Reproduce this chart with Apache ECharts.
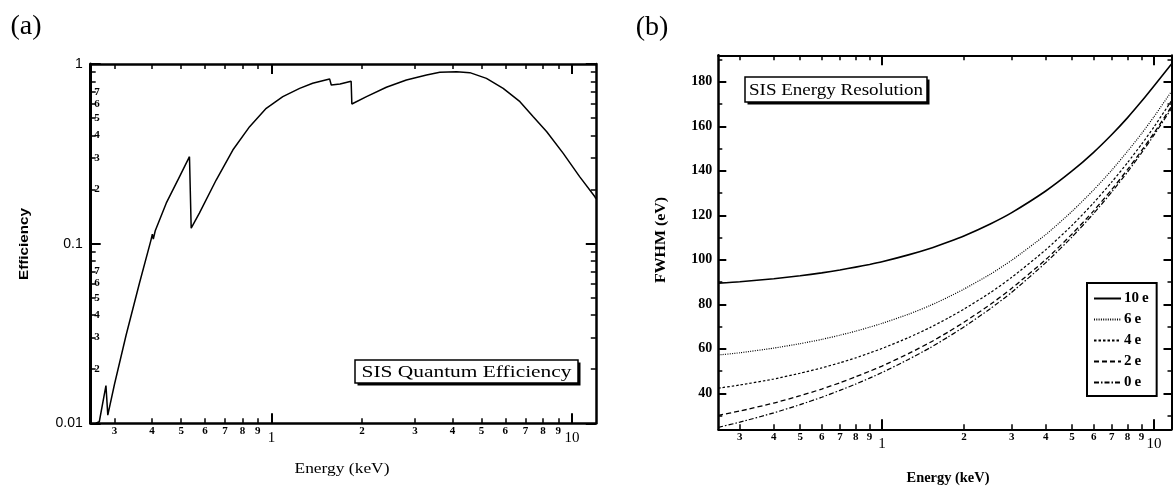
<!DOCTYPE html>
<html>
<head>
<meta charset="utf-8">
<script src="https://cdn.jsdelivr.net/npm/echarts@6/dist/echarts.min.js"></script>
<style>
  html, body { margin: 0; padding: 0; background: #fff; }
  #chart { width: 1173px; height: 486px; }
</style>
</head>
<body>
<div id="chart"></div>
<script>
// (a) SIS quantum efficiency vs photon energy (keV)
const qeEnergy = [0.26, 0.267, 0.281, 0.285, 0.300, 0.328, 0.363, 0.397, 0.401, 0.404, 0.41,
  0.446, 0.494, 0.533, 0.540, 0.575, 0.654, 0.743, 0.845, 0.960, 1.09, 1.24, 1.37, 1.56,
  1.58, 1.69, 1.84, 1.85, 2.07, 2.41, 2.81, 3.28, 3.63, 4.13, 4.57, 5.19, 5.90, 6.71,
  7.43, 8.24, 9.35, 10.6, 11.9, 12];
const qeValue = [0.0100, 0.0102, 0.0162, 0.0111, 0.0165, 0.031, 0.060, 0.105, 0.113, 0.106, 0.118,
  0.168, 0.236, 0.305, 0.122, 0.148, 0.226, 0.332, 0.448, 0.567, 0.658, 0.732, 0.781, 0.826,
  0.764, 0.774, 0.801, 0.599, 0.658, 0.742, 0.815, 0.869, 0.899, 0.906, 0.895, 0.832, 0.732, 0.617,
  0.509, 0.420, 0.318, 0.236, 0.183, 0.178];

// (b) SIS energy resolution (FWHM, eV) for several read-noise levels
const resEnergy = [0.25, 0.3, 0.4, 0.5, 0.6, 0.7, 0.8, 0.9, 1, 1.25, 1.5, 1.75, 2, 2.5, 3, 4, 5, 6, 7, 8, 9, 10, 11.6];
const res10e = [89.5, 90.1, 91.5, 92.8, 94.1, 95.4, 96.7, 97.9, 99.1, 102.2, 105.1, 108.0, 110.7, 116.1, 121.2, 130.9, 139.9, 148.3, 156.3, 163.9, 171.2, 178.1, 188.0];
const res6e = [57.2, 58.2, 60.3, 62.3, 64.2, 66.1, 67.9, 69.7, 71.4, 75.5, 79.4, 83.2, 86.8, 93.5, 99.8, 111.3, 121.8, 131.4, 140.3, 148.8, 156.7, 164.3, 175.7];
const res4e = [42.3, 43.7, 46.4, 49.0, 51.4, 53.7, 55.9, 58.1, 60.1, 65.0, 69.5, 73.8, 77.8, 85.2, 92.1, 104.5, 115.5, 125.6, 135.0, 143.7, 151.9, 159.7, 171.5];
const res2e = [30.1, 32.0, 35.6, 38.9, 41.9, 44.7, 47.4, 49.9, 52.2, 57.8, 62.8, 67.5, 71.9, 79.9, 87.2, 100.1, 111.6, 122.0, 131.6, 140.6, 149.0, 156.9, 168.9];
const res0e = [24.7, 27.0, 31.2, 34.9, 38.2, 41.3, 44.1, 46.8, 49.3, 55.2, 60.4, 65.3, 69.8, 78.0, 85.4, 98.7, 110.3, 120.8, 130.5, 139.5, 148.0, 156.0, 168.0];
const resNames = ['10\u2009e', '6\u2009e', '4\u2009e', '2\u2009e', '0\u2009e'];

// tick values
const energyMajor = [1, 10];
const energyMinor = [0.3, 0.4, 0.5, 0.6, 0.7, 0.8, 0.9, 2, 3, 4, 5, 6, 7, 8, 9];
const qeMajor = [0.01, 0.1, 1];
const qeMinor = [0.02, 0.03, 0.04, 0.05, 0.06, 0.07, 0.08, 0.09, 0.2, 0.3, 0.4, 0.5, 0.6, 0.7, 0.8, 0.9];
const qeMinorLabels = [0.02, 0.03, 0.04, 0.05, 0.06, 0.07, 0.2, 0.3, 0.4, 0.5, 0.6, 0.7];
const fwhmMajor = [40, 60, 80, 100, 120, 140, 160, 180];
const fwhmMinor = [30, 50, 70, 90, 110, 130, 150, 170, 190];

const SERIF = '"Liberation Serif", "DejaVu Serif", serif';
const SANS = '"Liberation Sans", Arial, sans-serif';

const zip = (xs, ys) => xs.map((x, i) => [x, ys[i]]);
const near = (list, v) => list.some(m => Math.abs(m - v) < 1e-9 * Math.max(1, m));

// horizontal stretch so a label spans a given width
const measureCtx = document.createElement('canvas').getContext('2d');
function stretch(text, font, width) {
  measureCtx.font = font;
  return width / measureCtx.measureText(text).width;
}

function energyLabel(v) {
  if (near(energyMajor, v)) return '{maj|' + (v >= 10 ? '10' : '1') + '}';
  return '{min|' + Math.round(v < 1 ? v * 10 : v) + '}';
}

// one axis of a framed panel; extra axes only carry ticks / labels
function frameAxis(base, o) {
  return Object.assign({
    splitLine: { show: false },
    axisLine: { show: !!o.line, onZero: false, lineStyle: { color: '#000', width: o.lw || 2.5 } },
    axisTick: {
      show: !!o.ticks, inside: true, customValues: o.ticks, length: o.len || 5,
      lineStyle: { color: '#000', width: o.tw || 1.5 }
    },
    axisLabel: o.label ? Object.assign({ show: true, color: '#000' }, o.label) : { show: false },
    z: 5
  }, base);
}

const xA = { gridIndex: 0, type: 'log', logBase: 10, min: 0.25, max: 12 };
const xB = { gridIndex: 1, type: 'log', logBase: 10, min: 0.25, max: 11.6 };
const yA = { gridIndex: 0, type: 'log', logBase: 10, min: 0.01, max: 1 };
const yB = { gridIndex: 1, type: 'value', min: 23.8, max: 191.9 };

function energyLabelStyle(majFont, majBold, minMargin, majPad) {
  return {
    customValues: energyMajor.concat(energyMinor),
    margin: minMargin,
    formatter: energyLabel,
    rich: {
      min: { fontFamily: SERIF, fontWeight: 'bold', fontSize: 11, lineHeight: 11, color: '#000' },
      maj: { fontFamily: majFont, fontWeight: majBold ? 'bold' : 'normal', fontSize: 15, lineHeight: 15, padding: [majPad, 0, 0, 0], color: '#000' }
    }
  };
}

const xAxes = [
  // panel (a)
  frameAxis(Object.assign({ position: 'bottom' }, xA), { line: true, ticks: energyMinor, len: 5,
    label: energyLabelStyle(SERIF, false, 2, 10) }),
  frameAxis(Object.assign({ position: 'bottom' }, xA), { ticks: energyMajor, len: 10, tw: 2 }),
  frameAxis(Object.assign({ position: 'top' }, xA), { line: true, ticks: energyMinor, len: 5 }),
  frameAxis(Object.assign({ position: 'top' }, xA), { ticks: energyMajor, len: 10, tw: 2 }),
  // panel (b)
  frameAxis(Object.assign({ position: 'bottom' }, xB), { line: true, lw: 2, ticks: energyMinor, len: 5,
    label: energyLabelStyle(SERIF, false, 2, 10) }),
  frameAxis(Object.assign({ position: 'bottom' }, xB), { ticks: energyMajor, len: 10, tw: 2 }),
  frameAxis(Object.assign({ position: 'top' }, xB), { line: true, lw: 2, ticks: energyMinor, len: 5 }),
  frameAxis(Object.assign({ position: 'top' }, xB), { ticks: energyMajor, len: 10, tw: 2 })
];

const yAxes = [
  // panel (a)
  frameAxis(Object.assign({ position: 'left' }, yA), { line: true, lw: 3, ticks: qeMinor, len: 5,
    label: { customValues: qeMajor, margin: 8, fontFamily: SANS, fontSize: 14,
      formatter: v => (v >= 1 ? '1' : v >= 0.1 ? '0.1' : '0.01') } }),
  frameAxis(Object.assign({ position: 'left' }, yA), { ticks: qeMajor, len: 10, tw: 2,
    label: { customValues: qeMinorLabels, margin: -9, fontFamily: SERIF, fontWeight: 'bold', fontSize: 11,
      formatter: v => String(Math.round(v < 0.1 ? v * 100 : v * 10)) } }),
  frameAxis(Object.assign({ position: 'right' }, yA), { line: true, ticks: qeMinor, len: 5 }),
  frameAxis(Object.assign({ position: 'right' }, yA), { ticks: qeMajor, len: 10, tw: 2 }),
  // panel (b)
  frameAxis(Object.assign({ position: 'left' }, yB), { line: true, lw: 2.5, ticks: fwhmMinor, len: 4,
    label: { customValues: fwhmMajor, margin: 6, fontFamily: SERIF, fontWeight: 'bold', fontSize: 14 } }),
  frameAxis(Object.assign({ position: 'left' }, yB), { ticks: fwhmMajor, len: 8, tw: 2 }),
  frameAxis(Object.assign({ position: 'right' }, yB), { line: true, lw: 2, ticks: fwhmMinor, len: 4 }),
  frameAxis(Object.assign({ position: 'right' }, yB), { ticks: fwhmMajor, len: 8, tw: 2 })
];

const resSeries = [res10e, res6e, res4e, res2e, res0e];
const resDash = ['solid', [1, 1.3], [2.5, 2], [5, 3], [5, 2, 1.5, 2]];
const resWidth = [1.6, 1.2, 1.2, 1.3, 1.2];

const series = [{
  type: 'line', name: 'efficiency', xAxisIndex: 0, yAxisIndex: 0,
  data: zip(qeEnergy, qeValue), symbol: 'none', showSymbol: false,
  lineStyle: { color: '#000', width: 1.5 }, z: 3
}].concat(resSeries.map((vals, i) => ({
  type: 'line', name: resNames[i], xAxisIndex: 4, yAxisIndex: 4,
  data: zip(resEnergy, vals), symbol: 'none', showSymbol: false, smooth: 0.2,
  lineStyle: { color: '#000', width: resWidth[i], type: resDash[i] },
  itemStyle: { color: '#000' }, z: 3
})));

// boxed caption with a heavy drop shadow
function captionBox(x, y, w, h, text, textWidth) {
  const font = '17px ' + SERIF;
  return [
    { type: 'rect', z: 10, shape: { x: x + 2.5, y: y + 2.5, width: w, height: h }, style: { fill: '#000' } },
    { type: 'rect', z: 11, shape: { x: x, y: y, width: w, height: h }, style: { fill: '#fff', stroke: '#000', lineWidth: 1.5 } },
    { type: 'text', z: 12, x: x + w / 2, y: y + h / 2 + 1, scaleX: stretch(text, font, textWidth),
      style: { text: text, font: font, fill: '#000', align: 'center', verticalAlign: 'middle' } }
  ];
}

function label(text, x, y, font, width, rotate) {
  return { type: 'text', z: 12, x: x, y: y, rotation: rotate ? Math.PI / 2 : 0,
    scaleX: width ? stretch(text, font, width) : 1,
    style: { text: text, font: font, fill: '#000', align: 'center', verticalAlign: 'middle' } };
}

const graphics = [
  label('(a)', 26, 27, '28px ' + SERIF),
  label('(b)', 652, 28, '28px ' + SERIF),
  label('Efficiency', 24, 244, 'bold 13px ' + SANS, 72, true),
  label('FWHM (eV)', 661, 240, 'bold 15px ' + SERIF, 86, true),
  label('Energy (keV)', 342, 469, '15px ' + SERIF, 95),
  label('Energy (keV)', 948, 478, 'bold 14px ' + SERIF, 83)
].concat(captionBox(355, 360, 223, 23, 'SIS Quantum Efficiency', 210))
 .concat(captionBox(745, 77, 182, 25, 'SIS Energy Resolution', 174));

const chart = echarts.init(document.getElementById('chart'), null, { renderer: 'canvas' });
chart.setOption({
  animation: false,
  backgroundColor: '#fff',
  grid: [
    { left: 90.7, top: 64, width: 505.1, height: 359.3 },
    { left: 718.3, top: 55.3, width: 453.2, height: 374 }
  ],
  xAxis: xAxes,
  yAxis: yAxes,
  legend: {
    data: resNames, orient: 'vertical', left: 1087, top: 283,
    padding: [8, 8, 6, 6], itemWidth: 27, itemHeight: 14, itemGap: 6,
    borderColor: '#000', borderWidth: 2, backgroundColor: '#fff',
    itemStyle: { opacity: 0 },
    textStyle: { fontFamily: SERIF, fontWeight: 'bold', fontSize: 15, color: '#000', padding: [0, 0, 0, -2] },
    selectedMode: false
  },
  series: series,
  graphic: graphics
});
</script>
</body>
</html>
